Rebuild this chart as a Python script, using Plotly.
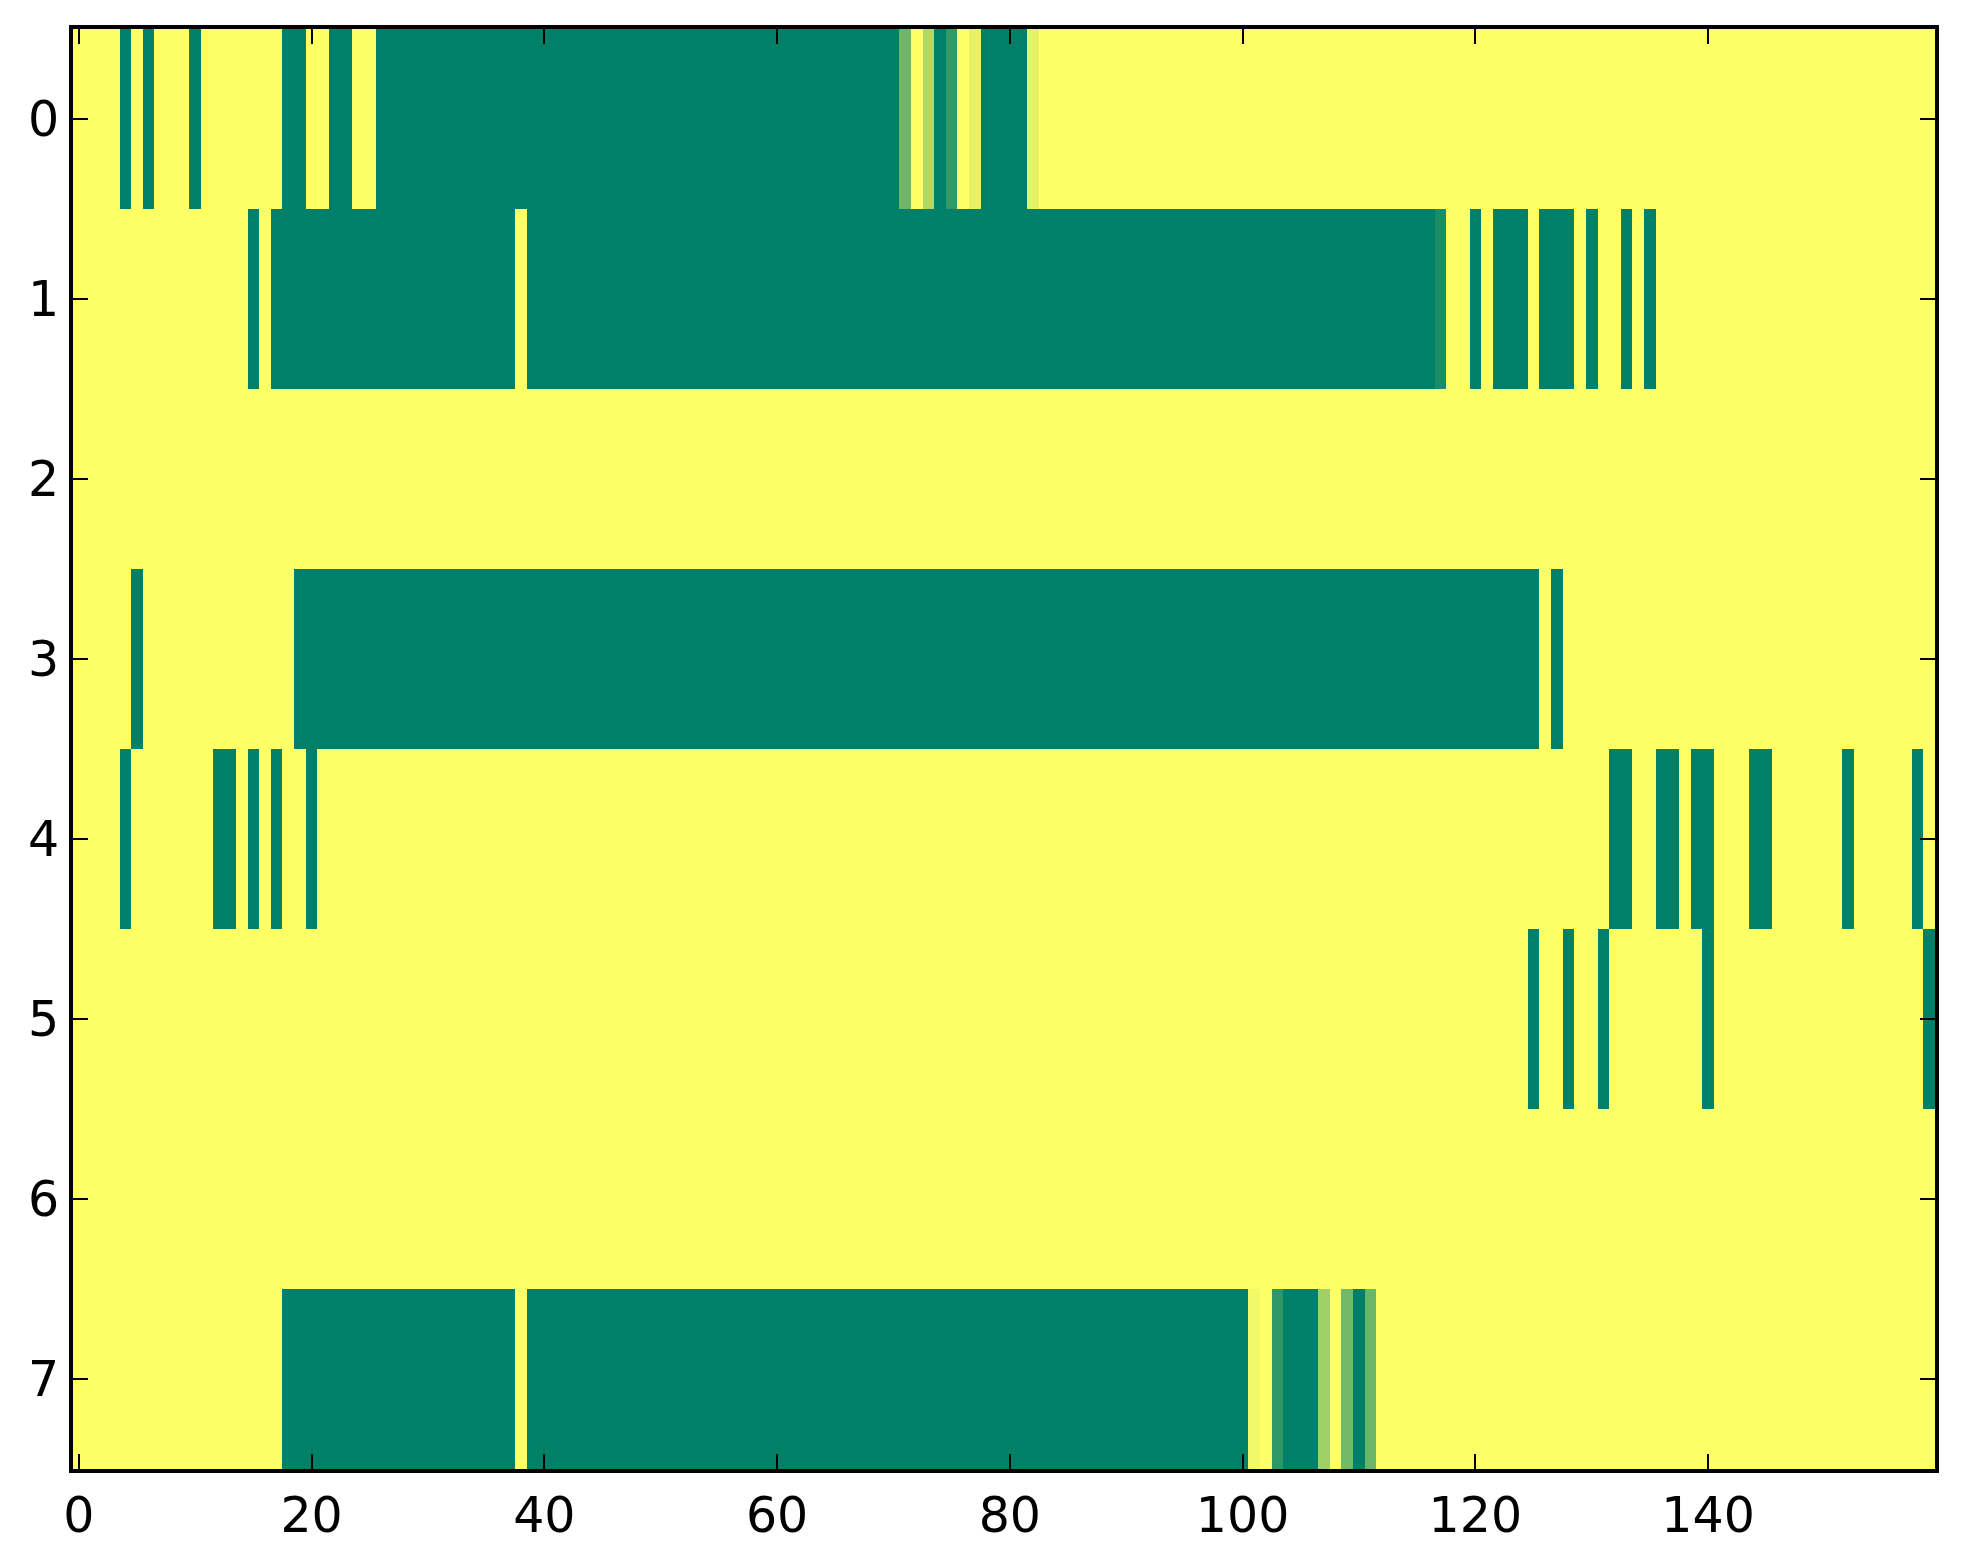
import plotly.graph_objects as go
import numpy as np

# run-length rows: (value, number of columns)
# value 0 = green end of the colormap, 1 = yellow end
row_0 = [(1, 4), (0, 1), (1, 1), (0, 1), (1, 3), (0, 1), (1, 7), (0, 2), (1, 2), (0, 2),
         (1, 2), (0, 45), (0.43, 1), (1, 1), (0.69, 1), (0, 1), (0.2, 1), (1, 1), (0.9, 1),
         (0, 4), (0.9, 1), (1, 77)]
row_1 = [(1, 15), (0, 1), (1, 1), (0, 21), (1, 1), (0, 78), (0.1, 1), (1, 2), (0, 1), (1, 1),
         (0, 3), (1, 1), (0, 3), (1, 1), (0, 1), (1, 2), (0, 1), (1, 1), (0, 1), (1, 24)]
row_2 = [(1, 160)]
row_3 = [(1, 5), (0, 1), (1, 13), (0, 107), (1, 1), (0, 1), (1, 32)]
row_4 = [(1, 4), (0, 1), (1, 7), (0, 2), (1, 1), (0, 1), (1, 1), (0, 1), (1, 2), (0, 1),
         (1, 111), (0, 2), (1, 2), (0, 2), (1, 1), (0, 2), (1, 3), (0, 2), (1, 6), (0, 1),
         (1, 5), (0, 1), (1, 1)]
row_5 = [(1, 125), (0, 1), (1, 2), (0, 1), (1, 2), (0, 1), (1, 8), (0, 1), (1, 18), (0, 1)]
row_6 = [(1, 160)]
row_7 = [(1, 18), (0, 20), (1, 1), (0, 62), (0.95, 1), (1, 1), (0.18, 1), (0, 3), (0.63, 1),
         (1, 1), (0.45, 1), (0, 1), (0.42, 1), (1, 48)]

rows = [row_0, row_1, row_2, row_3, row_4, row_5, row_6, row_7]
x_ticks = [0, 20, 40, 60, 80, 100, 120, 140]
y_ticks = [0, 1, 2, 3, 4, 5, 6, 7]

z = np.array([[v for v, n in r for _ in range(n)] for r in rows])
ncols = z.shape[1]

# matplotlib "summer" colormap
summer = [[0, 'rgb(0,128,102)'], [1, 'rgb(255,255,102)']]

fig = go.Figure()
fig.add_trace(go.Heatmap(
    z=z,
    x=np.arange(ncols),
    y=np.arange(len(rows)),
    colorscale=summer,
    zmin=0, zmax=1,
    zsmooth=False,
    showscale=False,
    hoverinfo='skip'
))

axis_style = dict(
    showline=True, linecolor='black', linewidth=4, mirror='ticks',
    ticks='inside', ticklen=15, tickwidth=2, tickcolor='black',
    showgrid=False, zeroline=False,
    tickfont=dict(family='DejaVu Sans', size=49, color='black'),
)

# page body adds an 8px offset, margins compensate for it
fig.update_layout(
    width=1963, height=1564,
    margin=dict(l=65, r=36, t=21, b=103),
    paper_bgcolor='white', plot_bgcolor='white',
    xaxis=dict(range=[-0.5, ncols - 0.5], tickvals=x_ticks, **axis_style),
    yaxis=dict(range=[len(rows) - 0.5, -0.5], tickvals=y_ticks, **axis_style),
)

fig.write_html("out.html")
